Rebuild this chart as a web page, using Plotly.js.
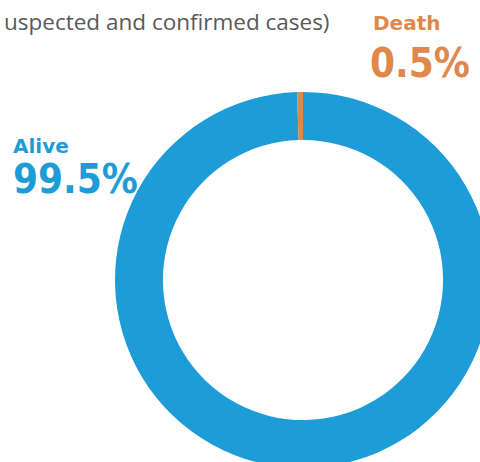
<!DOCTYPE html>
<html>
<head>
<meta charset="utf-8">
<script src="https://cdn.plot.ly/plotly-3.0.1.min.js"></script>
<style>
html,body{margin:0;padding:0;overflow:hidden;background:#fff;width:480px;height:462px;}
#chart{width:600px;height:600px;}
</style>
</head>
<body>
<div id="chart"></div>
<script>
const labels = ["Alive", "Death"];
const values = [99.5, 0.5];
const colors = ["#1E9CD7", "#E0874A"];
const titleText = "uspected and confirmed cases)";

const W = 600, H = 600;
const px = v => v / W;
const py = v => 1 - v / H;

const trace = {
  type: "pie",
  labels: labels,
  values: values,
  sort: false,
  direction: "clockwise",
  rotation: 0,
  hole: 0.745,
  textinfo: "none",
  hoverinfo: "label+percent",
  marker: {colors: colors, line: {width: 0}},
  domain: {x: [115 / W, 491 / W], y: [1 - 468 / H, 1 - 92 / H]},
  showlegend: false
};

const labelPos = [
  {nameX: 11, nameY: 146, valX: 11, valY: 179},
  {nameX: 371, nameY: 23, valX: 368, valY: 63}
];

const annotations = [
  {xref: "paper", yref: "paper", x: px(332), y: py(21), xanchor: "right", yanchor: "middle",
   text: titleText, showarrow: false, font: {family: "Open Sans", size: 22.5, color: "#595959"}}
];
labels.forEach((l, i) => {
  annotations.push({xref: "paper", yref: "paper", x: px(labelPos[i].nameX), y: py(labelPos[i].nameY),
    xanchor: "left", yanchor: "middle", showarrow: false, text: "<b>" + l + "</b>",
    font: {family: "DejaVu Sans", size: 20, color: colors[i]}});
  annotations.push({xref: "paper", yref: "paper", x: px(labelPos[i].valX), y: py(labelPos[i].valY),
    xanchor: "left", yanchor: "middle", showarrow: false, text: "<b>" + values[i] + "%</b>",
    font: {family: "DejaVu Sans Condensed", size: 40, color: colors[i]}});
});

Plotly.newPlot("chart", [trace], {
  width: W, height: H,
  margin: {l: 0, r: 0, t: 0, b: 0},
  paper_bgcolor: "#fff",
  annotations: annotations
}, {displayModeBar: false, staticPlot: true});
</script>
</body>
</html>
